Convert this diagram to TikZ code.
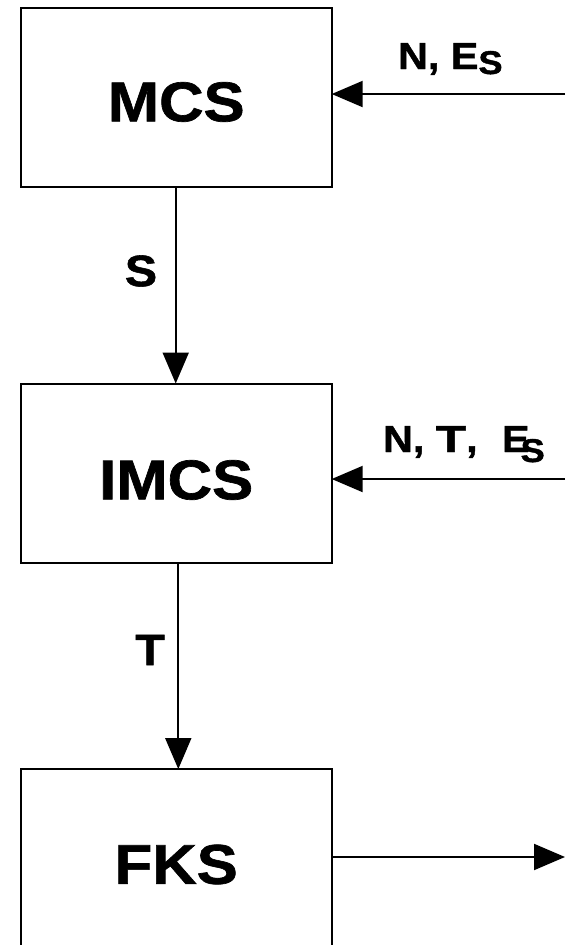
\documentclass[tikz,border=0pt]{standalone}
\usepackage{fontspec}
\setmainfont{Liberation Sans}[FakeStretch=1.1, BoldFeatures={FakeBold=1.2}]
\usetikzlibrary{arrows.meta}
\begin{document}
\begin{tikzpicture}[x=1pt,y=-1pt,
  box/.style={draw, line width=2pt, minimum width=311pt, minimum height=179pt, inner sep=0pt, outer sep=0pt},
  big/.style={font=\bfseries\fontsize{56}{60}\selectfont, inner sep=0pt},
  lab/.style={font=\bfseries\fontsize{44}{48}\selectfont, inner sep=0pt},
  rlab/.style={font=\bfseries\fontsize{37.5}{40}\selectfont, inner sep=0pt, anchor=base west},
  arr/.style={-{Triangle[length=31pt,width=26pt]}, line width=2pt}]
\useasboundingbox (0,0) rectangle (565,945);
\clip (0,0) rectangle (565,945);
\fill[white] (0,0) rectangle (565,945);
\node[box, label={[big,yshift=-4.5pt]center:MCS}] (mcs) at (176.2,97.5) {};
\node[box, label={[big,yshift=-7pt]center:IMCS}] (imcs) at (176.2,473) {};
\node[box, label={[big,yshift=-6pt]center:FKS}] (fks) at (176.2,858.5) {};
\coordinate (in1) at (565,94);
\coordinate (in2) at (565,479);
\coordinate (out) at (565,857);
\draw[arr] (in1) -- (mcs.east |- in1);
\draw[arr] (in2) -- (imcs.east |- in2);
\draw[arr] (fks.east |- out) -- (out);
\draw[arr] ([xshift=-0.5pt]mcs.south) -- ([xshift=-0.5pt]imcs.north);
\draw[arr] ([xshift=2.1pt]imcs.south) -- ([xshift=2.1pt]fks.north);
\node[lab] (ls) at (141,271) {S};
\node[lab] (lt) at (150,650) {T};
\node[rlab] (l1) at (398,69) {N, E\raisebox{-5pt}{\fontsize{33}{33}\selectfont S}};
\node[rlab] (l2) at (383,452) {N, \scalebox{1.2}[1]{T}, \kern13pt E\kern-9pt\raisebox{-10pt}{\fontsize{33}{33}\selectfont S}};
\end{tikzpicture}
\end{document}
